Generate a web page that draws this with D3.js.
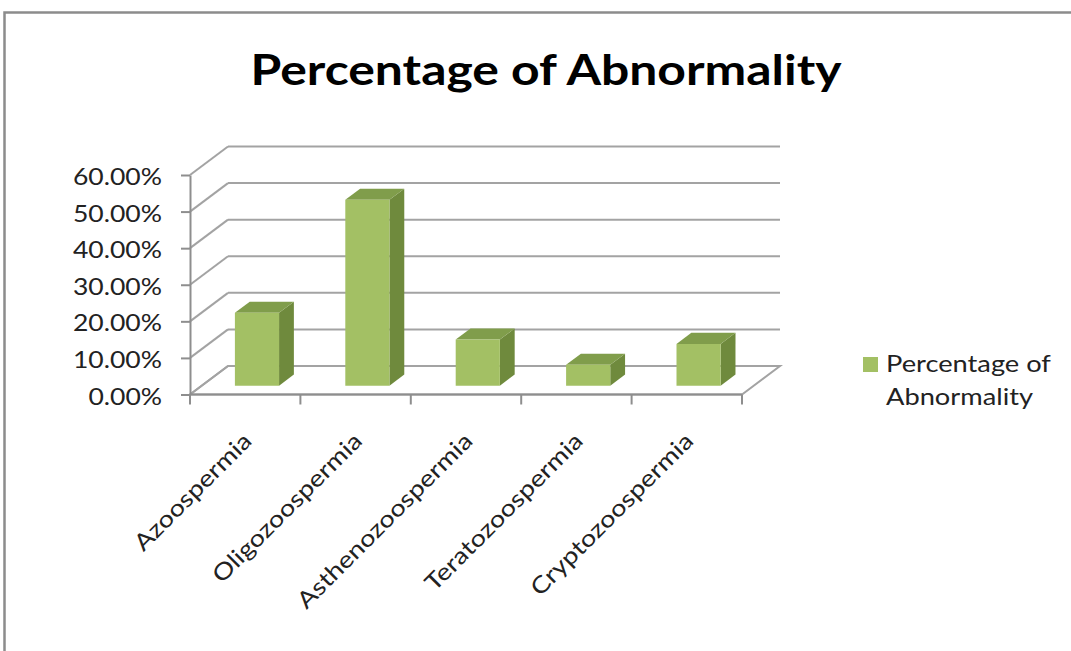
<!DOCTYPE html>
<html><head><meta charset="utf-8">
<script src="https://cdn.jsdelivr.net/npm/d3@7"></script>
<style>html,body{margin:0;padding:0;background:#fff;}svg{display:block;}</style>
</head><body>
<svg id="chart" width="1071" height="651"></svg>
<script>
// ---- data ----
const categories = ["Azoospermia", "Oligozoospermia", "Asthenozoospermia", "Teratozoospermia", "Cryptozoospermia"];
const values = [0.199, 0.508, 0.126, 0.057, 0.114];
const seriesName = "Percentage of Abnormality";
const legendLines = ["Percentage of", "Abnormality"];
const yTicks = [0, 0.1, 0.2, 0.3, 0.4, 0.5, 0.6];
const titleText = "Percentage of Abnormality";

// ---- layout ----
const svg = d3.select("#chart");
const FONT = "Lato, 'Open Sans', sans-serif";
const depth = {dx: 38, dy: -28.5};
const barF0 = 0.31, barF1 = 0.70;
const colors = {front: "#A3C064", side: "#6F8A3D", top: "#809D4B", grid: "#A3A3A3", axis: "#8E8E8E", border: "#8C8C8C"};

const x = d3.scaleBand().domain(categories).range([190, 742]).paddingInner(0).paddingOuter(0);
const y = d3.scaleLinear().domain([0, 0.6]).range([394.5, 175]);
const proj = (px, py, f) => [px + f * depth.dx, py + f * depth.dy];

// outer border
svg.append("rect").attr("x", 4.5).attr("y", 12.5).attr("width", 1200).attr("height", 800)
  .attr("fill", "none").attr("stroke", colors.border).attr("stroke-width", 2.5);

// title
const title = svg.append("text").attr("x", 546).attr("y", 85).attr("text-anchor", "middle")
  .attr("font-family", FONT).attr("font-weight", "bold").attr("font-size", 42).attr("fill", "#000")
  .text(titleText);
title.attr("textLength", 591).attr("lengthAdjust", "spacingAndGlyphs");

const g = svg.append("g");
const x0 = x.range()[0], x1 = x.range()[1];

// floor
const floorPts = [[x0, y(0)], [x1, y(0)], proj(x1, y(0), 1), proj(x0, y(0), 1)];
g.append("path").attr("d", d3.line()(floorPts) + "Z").attr("fill", "none")
  .attr("stroke", colors.grid).attr("stroke-width", 2);

// back wall gridlines + side wall diagonals
yTicks.forEach(t => {
  const b0 = proj(x0, y(t), 1), b1 = proj(x1, y(t), 1);
  g.append("line").attr("x1", b0[0]).attr("y1", b0[1]).attr("x2", b1[0]).attr("y2", b1[1])
    .attr("stroke", colors.grid).attr("stroke-width", 2);
  g.append("line").attr("x1", x0).attr("y1", y(t)).attr("x2", b0[0]).attr("y2", b0[1])
    .attr("stroke", colors.grid).attr("stroke-width", 2);
});

// y axis
const yAxis = d3.axisLeft(y).tickValues(yTicks).tickFormat(d3.format(".2%"))
  .tickSize(9).tickSizeOuter(0).tickPadding(19);
const ya = g.append("g").attr("transform", `translate(${x0},0)`).call(yAxis);
ya.select(".domain").attr("stroke", colors.axis).attr("stroke-width", 2);
ya.selectAll(".tick line").attr("stroke", colors.axis).attr("stroke-width", 2);
ya.selectAll(".tick text").attr("font-family", FONT).attr("font-size", 23).attr("fill", "#222")
  .attr("dy", 9.5);
// stretch to match reference widths
let refLen = 0;
ya.selectAll(".tick text").each(function(d){ if (d === 0.6) refLen = this.getComputedTextLength(); });
const kY = 89 / refLen;
ya.selectAll(".tick text").each(function(){
  d3.select(this).attr("textLength", this.getComputedTextLength() * kY).attr("lengthAdjust", "spacingAndGlyphs");
});

// x axis line + boundary ticks
g.append("line").attr("x1", x0).attr("y1", y(0)).attr("x2", x1).attr("y2", y(0))
  .attr("stroke", colors.axis).attr("stroke-width", 2);
const bounds = categories.map(c => x(c)).concat([x1]);
g.selectAll(".xtick").data(bounds).join("line").attr("class", "xtick")
  .attr("x1", d => d).attr("x2", d => d).attr("y1", y(0)).attr("y2", y(0) + 10)
  .attr("stroke", colors.axis).attr("stroke-width", 2);

// bars
const bw = x.bandwidth() * 0.4;
const bars = g.selectAll(".bar").data(categories.map((c, i) => ({c, v: values[i]}))).join("g").attr("class", "bar");
bars.each(function(d) {
  const cx = x(d.c) + x.bandwidth() / 2;
  const L = cx - bw / 2, R = cx + bw / 2;
  const yb = y(0), yt = y(d.v);
  const fbl = proj(L, yb, barF0), fbr = proj(R, yb, barF0), ftl = proj(L, yt, barF0), ftr = proj(R, yt, barF0);
  const bbr = proj(R, yb, barF1), btl = proj(L, yt, barF1), btr = proj(R, yt, barF1);
  const sel = d3.select(this);
  sel.append("path").attr("d", d3.line()([fbr, bbr, btr, ftr]) + "Z").attr("fill", colors.side);
  sel.append("path").attr("d", d3.line()([ftl, ftr, btr, btl]) + "Z").attr("fill", colors.top);
  sel.append("path").attr("d", d3.line()([fbl, fbr, ftr, ftl]) + "Z").attr("fill", colors.front);
});

// legend
const lg = svg.append("g");
lg.append("rect").attr("x", 863).attr("y", 357).attr("width", 15).attr("height", 15).attr("fill", colors.front);
const legTexts = lg.selectAll("text").data(legendLines).join("text")
  .attr("x", 886).attr("y", (d, i) => 372 + i * 33)
  .attr("font-family", FONT).attr("font-size", 23).attr("fill", "#222").text(d => d);
let abLen = 1;
legTexts.each(function(d){ if (d === "Abnormality") abLen = this.getComputedTextLength(); });
const kL = 147 / abLen;
legTexts.each(function(){
  d3.select(this).attr("textLength", this.getComputedTextLength() * kL).attr("lengthAdjust", "spacingAndGlyphs");
});

// category labels (rotated)
const xl = g.selectAll(".xlabel").data(categories).join("text").attr("class", "xlabel")
  .attr("font-family", FONT).attr("font-size", 23).attr("fill", "#222").attr("text-anchor", "end")
  .attr("transform", d => `translate(${x(d) + x.bandwidth() / 2 + 8},${y(0) + 48}) rotate(-45)`)
  .text(d => d);
xl.each(function(){
  d3.select(this).attr("textLength", this.getComputedTextLength() * kL).attr("lengthAdjust", "spacingAndGlyphs");
});
</script>
</body></html>
